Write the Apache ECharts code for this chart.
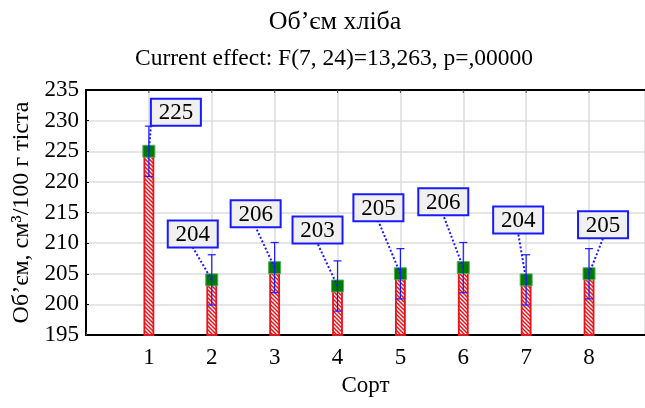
<!DOCTYPE html>
<html>
<head>
<meta charset="utf-8">
<script src="https://cdn.jsdelivr.net/npm/echarts@6/dist/echarts.min.js"></script>
<style>html,body{margin:0;padding:0;background:#fff;overflow:hidden}#c{width:645px;height:408px}</style>
</head>
<body>
<div id="c"></div>
<script>
const categories = ['1', '2', '3', '4', '5', '6', '7', '8'];
const means = [225, 204, 206, 203, 205, 206, 204, 205];
const errors = [4.1, 4.1, 4.1, 4.1, 4.1, 4.1, 4.1, 4.1];
const yTicks = [195, 200, 205, 210, 215, 220, 225, 230, 235];
const xMax = 8.89;

// label box offsets (pixels, relative to the point) – layout only
const labelOffsets = [[27, -39], [-19, -46], [-19, -54], [-20, -56], [-22, -66], [-20, -66], [-8, -60], [14, -49]];

const FONT = '"Liberation Serif", "Times New Roman", serif';
const BLUE = '#1a1aff';
const RED = '#e8141c';

// hatch pattern
const pc = document.createElement('canvas');
pc.width = 4; pc.height = 4;
const g = pc.getContext('2d');
g.fillStyle = RED; g.fillRect(0, 0, 4, 4);
g.strokeStyle = '#ffffff'; g.lineWidth = 1.3;
g.beginPath();
g.moveTo(-1, -1); g.lineTo(5, 5);
g.moveTo(-1, 3); g.lineTo(1, 5);
g.moveTo(3, -1); g.lineTo(5, 1);
g.stroke();

const data = categories.map((c, i) => [Number(c), means[i], errors[i], i]);

const chart = echarts.init(document.getElementById('c'));

function renderItem(params, api) {
  const x = api.value(0), m = api.value(1), e = api.value(2), idx = api.value(3);
  const yTop = yTicks[yTicks.length - 1];
  const p = api.coord([x, m]);
  const base = api.coord([x, yTicks[0]]);
  const hi = api.coord([x, m + e]);
  const lo = api.coord([x, m - e]);
  const top = api.coord([x, yTop]);
  const bw = 9;
  const off = labelOffsets[idx];
  const boxW = 50, boxH = 27;
  const cx = p[0] + off[0], cy = p[1] + off[1];
  const bx0 = cx - boxW / 2, bx1 = cx + boxW / 2, by1 = cy + boxH / 2;
  let ex, ey = by1;
  if (p[0] >= bx0 && p[0] <= bx1) ex = cx;
  else ex = p[0] < bx0 ? bx0 : bx1;
  const capW = 4;
  const children = [];
  if (idx === 0) {
    // top frame line across the plot
    const a = api.coord([0, yTop]), b = api.coord([xMax, yTop]);
    children.push({ type: 'line', shape: { x1: a[0] - 1, y1: a[1], x2: b[0], y2: b[1] },
      style: { stroke: '#000', lineWidth: 2 } });
  }
  children.push(
    { type: 'line', shape: { x1: top[0], y1: top[1], x2: top[0], y2: top[1] + 3 },
      style: { stroke: '#444', lineWidth: 1 } },
    { type: 'rect', shape: { x: p[0] - bw / 2, y: p[1], width: bw, height: base[1] - p[1] },
      style: { fill: { image: pc, repeat: 'repeat' }, stroke: RED, lineWidth: 1.8 } },
    { type: 'rect', shape: { x: p[0] - 6, y: p[1] - 6, width: 12, height: 12 },
      style: { fill: '#007a00', stroke: '#5cae5c', lineWidth: 1 } },
    { type: 'polyline', shape: { points: [[p[0], hi[1]], [p[0], lo[1]]] },
      style: { stroke: BLUE, lineWidth: 1.2, fill: null } },
    { type: 'line', shape: { x1: p[0] - capW, y1: hi[1], x2: p[0] + capW, y2: hi[1] },
      style: { stroke: BLUE, lineWidth: 1.2 } },
    { type: 'line', shape: { x1: p[0] - capW, y1: lo[1], x2: p[0] + capW, y2: lo[1] },
      style: { stroke: BLUE, lineWidth: 1.2 } },
    { type: 'line', shape: { x1: p[0], y1: p[1], x2: ex, y2: ey },
      style: { stroke: BLUE, lineWidth: 2, lineDash: [2, 2] } },
    { type: 'rect', shape: { x: bx0, y: cy - boxH / 2, width: boxW, height: boxH },
      style: { fill: '#f0f0f0', stroke: BLUE, lineWidth: 2 } },
    { type: 'text', x: cx, y: cy + 1,
      style: { text: String(Math.round(m)), font: '23px ' + FONT, fill: '#000',
               align: 'center', verticalAlign: 'middle' } }
  );
  return { type: 'group', children: children };
}

const axisText = { color: '#000', fontFamily: FONT, fontSize: 23 };

chart.setOption({
  animation: false,
  title: [
    { text: 'Об’єм хліба', left: 330, textAlign: 'center', top: 4,
      textStyle: { fontFamily: FONT, fontSize: 26, fontWeight: 'normal', color: '#000' } },
    { text: 'Current effect: F(7, 24)=13,263, p=,00000', left: 329, textAlign: 'center', top: 42,
      textStyle: { fontFamily: FONT, fontSize: 23.5, fontWeight: 'normal', color: '#000' } }
  ],
  grid: { left: 86, right: 0, top: 90, bottom: 73, outerBoundsMode: 'none' },
  xAxis: {
    type: 'value', min: 0, max: xMax, interval: 1, position: 'bottom',
    name: 'Сорт', nameLocation: 'middle', nameGap: 39,
    nameTextStyle: { color: '#000', fontFamily: FONT, fontSize: 23 },
    axisLine: { show: true, lineStyle: { color: '#000', width: 2 } },
    axisTick: { show: true, inside: true, length: 3, lineStyle: { color: '#444' } },
    splitLine: { show: true, lineStyle: { color: '#dcdcdc', width: 1.5 } },
    axisLabel: Object.assign({ margin: 11,
      formatter: v => (v >= 1 && v <= 8 && Number.isInteger(v)) ? categories[v - 1] : '' }, axisText)
  },
  yAxis: {
    type: 'value', min: yTicks[0], max: yTicks[yTicks.length - 1], interval: 5,
    name: 'Об’єм, см³/100 г тіста', nameLocation: 'middle', nameGap: 52, nameRotate: 90,
    nameTextStyle: { color: '#000', fontFamily: FONT, fontSize: 24 },
    axisLine: { show: true, lineStyle: { color: '#000', width: 2 } },
    axisTick: { show: true, inside: true, length: 3, lineStyle: { color: '#000' } },
    splitLine: { show: true, lineStyle: { color: '#dcdcdc', width: 1.5 } },
    axisLabel: Object.assign({ margin: 7 }, axisText)
  },
  series: [{
    type: 'custom', renderItem: renderItem, data: data,
    encode: { x: 0, y: 1 }, clip: false
  }]
});
</script>
</body>
</html>
